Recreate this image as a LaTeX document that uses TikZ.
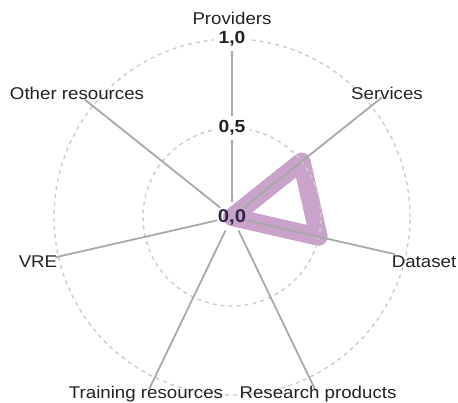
\documentclass[tikz,border=0pt]{standalone}
\usepackage{fontspec}
\setmainfont[FakeStretch=1.1]{Liberation Sans}
\definecolor{spoke}{HTML}{A8A8A8}
\definecolor{ring}{HTML}{CCCCCC}
\definecolor{area}{HTML}{C9A3CA}
\definecolor{txt}{HTML}{222222}
\definecolor{zero}{HTML}{2E2548}
\begin{document}
\begin{tikzpicture}[x=1pt,y=1pt,
  spokeline/.style={draw=spoke,line width=1.8pt},
  ringline/.style={draw=ring,line width=1.4pt,dash pattern=on 4pt off 4pt},
  axislabel/.style={text=txt,font=\fontsize{17}{20}\selectfont,inner sep=0pt},
  valuelabel/.style={text=txt,font=\fontsize{17.5}{20}\selectfont\bfseries,fill=white,inner sep=5pt},
  zerolabel/.style={text=zero,font=\fontsize{18.5}{20}\selectfont\bfseries,inner sep=1pt}]
\useasboundingbox (0,0) rectangle (458,403);
\begin{scope}[shift={(232pt,186pt)}]
  \coordinate (c) at (0,0);
  % data polygon
  \coordinate (ds) at (38.57:89pt);
  \coordinate (dd) at (-12.86:89pt);
  \draw[area,line width=18pt,line join=round,line cap=round] (c) -- (ds) -- (dd) -- cycle;
  % rings
  \draw[ringline] (c) circle[radius=89pt];
  \draw[ringline] (c) circle[radius=178pt];
  % spoke ends
  \coordinate (eP) at (90:190pt);
  \coordinate (eS) at (38.57:192pt);
  \coordinate (eD) at (-12.86:167pt);
  \coordinate (eR) at (-64.29:193pt);
  \coordinate (eT) at (-115.71:191pt);
  \coordinate (eV) at (-167.14:181pt);
  \coordinate (eO) at (141.43:188pt);
  \foreach \e/\a in {eP/90,eS/38.57,eD/-12.86,eR/-64.29,eT/-115.71,eV/-167.14,eO/141.43}{
    \draw[spokeline] (\a:15pt) -- (\e);
  }
  % value labels
  \node[valuelabel] (v10) at (90:178pt) {1,0};
  \node[valuelabel] (v05) at (90:89pt) {0,5};
  \node[zerolabel] (v00) at (c) {0,0};
  % axis labels
  \node[axislabel] (lP) at (0,199) {Providers};
  \node[axislabel] (lS) at (155,124) {Services};
  \node[axislabel] (lD) at (192,-45) {Dataset};
  \node[axislabel] (lR) at (86,-177) {Research products};
  \node[axislabel] (lT) at (-86,-177) {Training resources};
  \node[axislabel] (lV) at (-194,-45) {VRE};
  \node[axislabel] (lO) at (-155,124) {Other resources};
\end{scope}
\end{tikzpicture}
\end{document}
